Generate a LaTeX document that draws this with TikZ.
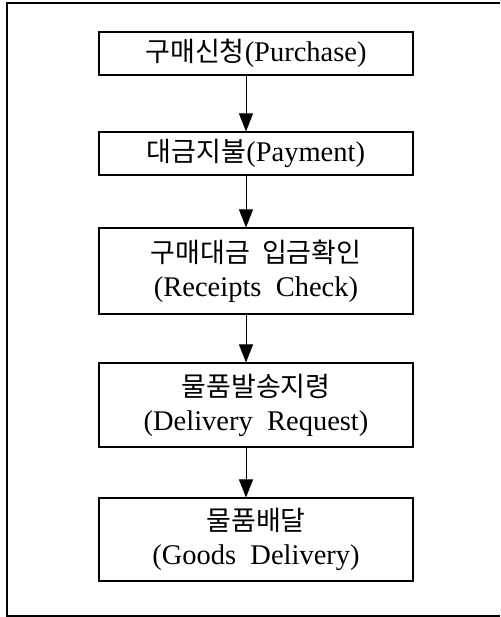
\documentclass[tikz,border=0pt]{standalone}
\usepackage{fontspec}
\setmainfont{Liberation Serif}
\newfontfamily\kr{Noto Sans CJK KR}
\usetikzlibrary{arrows.meta}
\tikzset{
  stepbox/.style={draw, line width=1.1pt, minimum width=314pt, inner sep=0pt, align=center,
    font=\fontsize{28.5}{34}\selectfont},
  flowarrow/.style={line width=1pt, -{Triangle[length=18pt,width=14pt]}},
  frameline/.style={line width=1.4pt}
}
\newcommand{\ko}[1]{{\kr\fontsize{27}{34}\selectfont #1}}
\begin{document}
\begin{tikzpicture}[x=1pt,y=1pt]
\useasboundingbox (0,0) rectangle (500,-617);
\draw[frameline] (500,-3) -- (7,-3) -- (7,-616) -- (500,-616);
\node[stepbox, minimum height=43pt] (b1) at (256,-53.5) {\ko{구매신청}(Purchase)};
\node[stepbox, minimum height=43pt] (b2) at (256,-153.5) {\ko{대금지불}(Payment)};
\node[stepbox, minimum height=86pt] (b3) at (256,-271) {\ko{구매대금\ \ 입금확인}\\(Receipts\ \ Check)};
\node[stepbox, minimum height=84pt] (b4) at (256,-405) {\ko{물품발송지령}\\(Delivery\ \ Request)};
\node[stepbox, minimum height=83pt] (b5) at (256,-539.5) {\ko{물품배달}\\(Goods\ \ Delivery)};
\foreach \a/\b in {b1/b2,b2/b3,b3/b4,b4/b5}
  \draw[flowarrow] ([xshift=-10pt]\a.south) -- ([xshift=-10pt]\b.north);
\end{tikzpicture}
\end{document}
